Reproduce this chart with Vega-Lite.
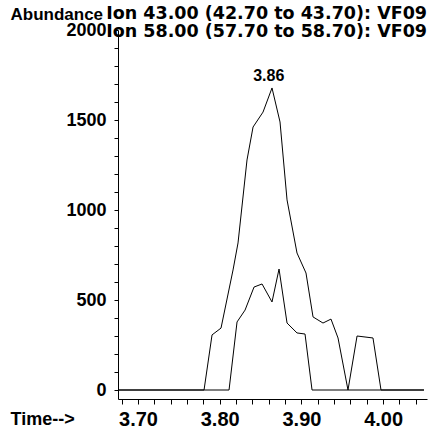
{
  "$schema": "https://vega.github.io/schema/vega-lite/v6.json",
  "width": 309,
  "height": 369,
  "autosize": "none",
  "padding": {"left": 118, "top": 30, "right": 3, "bottom": 31},
  "background": "white",
  "config": {"view": {"stroke": null}},
  "datasets": {
    "traces": [
      {"ion": "43", "time": 3.6755, "abundance": 0},
      {"ion": "43", "time": 3.7808, "abundance": 0},
      {"ion": "43", "time": 3.7906, "abundance": 306},
      {"ion": "43", "time": 3.8016, "abundance": 344},
      {"ion": "43", "time": 3.8163, "abundance": 667},
      {"ion": "43", "time": 3.8224, "abundance": 817},
      {"ion": "43", "time": 3.8334, "abundance": 1278},
      {"ion": "43", "time": 3.8408, "abundance": 1461},
      {"ion": "43", "time": 3.853, "abundance": 1544},
      {"ion": "43", "time": 3.864, "abundance": 1678},
      {"ion": "43", "time": 3.8738, "abundance": 1489},
      {"ion": "43", "time": 3.8824, "abundance": 1056},
      {"ion": "43", "time": 3.8946, "abundance": 761},
      {"ion": "43", "time": 3.9056, "abundance": 650},
      {"ion": "43", "time": 3.9142, "abundance": 406},
      {"ion": "43", "time": 3.9264, "abundance": 372},
      {"ion": "43", "time": 3.9362, "abundance": 394},
      {"ion": "43", "time": 3.9448, "abundance": 289},
      {"ion": "43", "time": 3.957, "abundance": 0},
      {"ion": "43", "time": 3.9681, "abundance": 300},
      {"ion": "43", "time": 3.9876, "abundance": 289},
      {"ion": "43", "time": 3.9974, "abundance": 0},
      {"ion": "43", "time": 4.05, "abundance": 0},
      {"ion": "58", "time": 3.6755, "abundance": 0},
      {"ion": "58", "time": 3.8114, "abundance": 0},
      {"ion": "58", "time": 3.8212, "abundance": 378},
      {"ion": "58", "time": 3.831, "abundance": 444},
      {"ion": "58", "time": 3.842, "abundance": 572},
      {"ion": "58", "time": 3.8518, "abundance": 589},
      {"ion": "58", "time": 3.864, "abundance": 489},
      {"ion": "58", "time": 3.8726, "abundance": 672},
      {"ion": "58", "time": 3.8824, "abundance": 372},
      {"ion": "58", "time": 3.8946, "abundance": 317},
      {"ion": "58", "time": 3.9044, "abundance": 311},
      {"ion": "58", "time": 3.913, "abundance": 0},
      {"ion": "58", "time": 4.05, "abundance": 0}
    ],
    "peaks": [
      {"time": 3.86, "abundance": 1678, "label": "3.86"}
    ]
  },
  "layer": [
    {
      "data": {"name": "traces"},
      "mark": {"type": "line", "color": "black", "strokeWidth": 1},
      "encoding": {
        "x": {
          "field": "time", "type": "quantitative",
          "scale": {"domain": [3.6755, 4.0537], "nice": false, "zero": false},
          "axis": {
            "values": [3.68, 3.70, 3.72, 3.74, 3.76, 3.78, 3.80, 3.82, 3.84, 3.86, 3.88, 3.90, 3.92, 3.94, 3.96, 3.98, 4.00, 4.02, 4.04],
            "tickCount": 60,
            "format": ".2f",
            "labelExpr": "abs(datum.value*10 - round(datum.value*10)) < 0.01 ? datum.label : ''",
            "tickSize": 5,
            "ticks": true,
            "domain": true,
            "zindex": 1,
            "tickColor": "black",
            "tickWidth": 1,
            "tickOpacity": 1,
            "domainColor": "black",
            "domainWidth": 1,
            "domainOpacity": 1,
            "grid": false,
            "labelFont": "Liberation Sans",
            "labelFontWeight": "bold",
            "labelFontSize": 20,
            "labelColor": "black",
            "labelPadding": 5,
            "labelFlush": false,
            "labelOverlap": false,
            "title": "Time-->",
            "titleX": -108,
            "titleY": 25,
            "titleAlign": "left",
            "titleBaseline": "alphabetic",
            "titleFont": "Liberation Sans",
            "titleFontWeight": "bold",
            "titleFontSize": 18,
            "titleColor": "black"
          }
        },
        "y": {
          "field": "abundance", "type": "quantitative",
          "scale": {"domain": [-50, 2000], "nice": false, "zero": false},
          "axis": {
            "values": [0, 100, 200, 300, 400, 500, 600, 700, 800, 900, 1000, 1100, 1200, 1300, 1400, 1500, 1600, 1700, 1800, 1900, 2000],
            "tickCount": 60,
            "format": "d",
            "labelExpr": "datum.value % 500 == 0 ? datum.label : ''",
            "ticks": true,
            "domain": true,
            "zindex": 1,
            "tickSize": 4,
            "tickColor": "black",
            "tickWidth": 1,
            "tickOpacity": 1,
            "domainColor": "black",
            "domainWidth": 1,
            "domainOpacity": 1,
            "grid": false,
            "labelFont": "Liberation Sans",
            "labelFontWeight": "bold",
            "labelFontSize": 18,
            "labelColor": "black",
            "labelPadding": 8,
            "labelOverlap": false,
            "title": "Abundance",
            "titleAngle": 0,
            "titleX": -108,
            "titleY": -11,
            "titleAlign": "left",
            "titleBaseline": "alphabetic",
            "titleFont": "Liberation Sans",
            "titleFontWeight": "bold",
            "titleFontSize": 17,
            "titleColor": "black"
          }
        },
        "detail": {"field": "ion", "type": "nominal"}
      }
    },
    {
      "data": {"name": "peaks"},
      "mark": {"type": "text", "font": "Liberation Sans", "fontWeight": "bold", "fontSize": 16, "baseline": "alphabetic", "dy": -7, "color": "black"},
      "encoding": {
        "x": {"field": "time", "type": "quantitative"},
        "y": {"field": "abundance", "type": "quantitative"},
        "text": {"field": "label"}
      }
    },
    {
      "data": {"values": [{}]},
      "mark": {"type": "text", "text": "Ion 43.00 (42.70 to 43.70): VF09", "font": "DejaVu Sans", "fontWeight": "bold", "fontSize": 17.5, "align": "right", "baseline": "alphabetic", "color": "black"},
      "encoding": {
        "x": {"datum": 4.0537, "type": "quantitative"},
        "y": {"datum": 2061, "type": "quantitative"}
      }
    },
    {
      "data": {"values": [{}]},
      "mark": {"type": "text", "text": "Ion 58.00 (57.70 to 58.70): VF09", "font": "DejaVu Sans", "fontWeight": "bold", "fontSize": 17.5, "align": "right", "baseline": "alphabetic", "color": "black"},
      "encoding": {
        "x": {"datum": 4.0537, "type": "quantitative"},
        "y": {"datum": 1961, "type": "quantitative"}
      }
    }
  ]
}
